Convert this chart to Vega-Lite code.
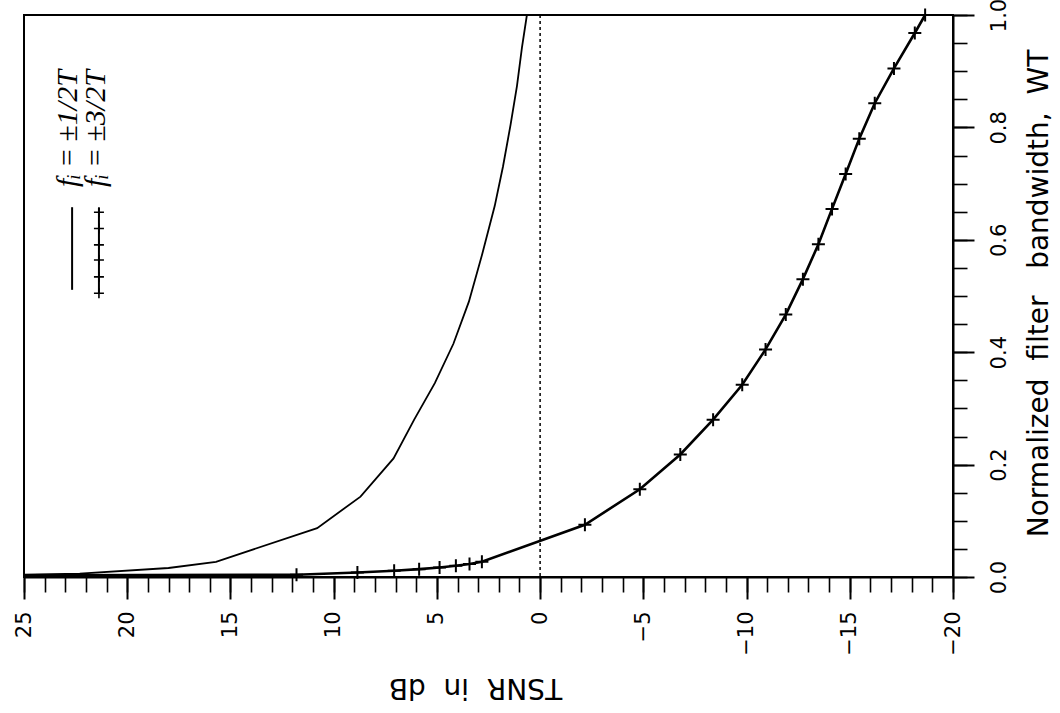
{
  "$schema": "https://vega.github.io/schema/vega-lite/v6.json",
  "width": 929,
  "height": 562,
  "autosize": {"type": "none"},
  "padding": {"left": 24, "top": 15, "right": 107, "bottom": 136},
  "background": "white",
  "config": {
    "view": {"stroke": "black", "strokeWidth": 2},
    "font": "DejaVu Sans"
  },
  "datasets": {
    "curves": [
      {"series": "f=±1/2T", "T": 25.0, "WT": 0.004},
      {"series": "f=±1/2T", "T": 22.3, "WT": 0.006},
      {"series": "f=±1/2T", "T": 18.0, "WT": 0.016},
      {"series": "f=±1/2T", "T": 15.7, "WT": 0.027},
      {"series": "f=±1/2T", "T": 10.8, "WT": 0.087},
      {"series": "f=±1/2T", "T": 8.7, "WT": 0.143},
      {"series": "f=±1/2T", "T": 7.1, "WT": 0.211},
      {"series": "f=±1/2T", "T": 6.1, "WT": 0.28},
      {"series": "f=±1/2T", "T": 5.1, "WT": 0.345},
      {"series": "f=±1/2T", "T": 4.2, "WT": 0.415},
      {"series": "f=±1/2T", "T": 3.45, "WT": 0.49},
      {"series": "f=±1/2T", "T": 2.8, "WT": 0.575},
      {"series": "f=±1/2T", "T": 2.2, "WT": 0.66},
      {"series": "f=±1/2T", "T": 1.8, "WT": 0.73},
      {"series": "f=±1/2T", "T": 1.43, "WT": 0.805},
      {"series": "f=±1/2T", "T": 1.12, "WT": 0.874},
      {"series": "f=±1/2T", "T": 0.88, "WT": 0.942},
      {"series": "f=±1/2T", "T": 0.64, "WT": 1.0},
      {"series": "f=±3/2T", "T": 25.0, "WT": 0.003},
      {"series": "f=±3/2T", "T": 11.8, "WT": 0.004},
      {"series": "f=±3/2T", "T": 8.85, "WT": 0.008},
      {"series": "f=±3/2T", "T": 7.07, "WT": 0.011},
      {"series": "f=±3/2T", "T": 5.86, "WT": 0.014},
      {"series": "f=±3/2T", "T": 4.87, "WT": 0.017},
      {"series": "f=±3/2T", "T": 4.08, "WT": 0.02},
      {"series": "f=±3/2T", "T": 3.42, "WT": 0.023},
      {"series": "f=±3/2T", "T": 2.82, "WT": 0.027},
      {"series": "f=±3/2T", "T": -2.17, "WT": 0.093},
      {"series": "f=±3/2T", "T": -4.83, "WT": 0.156},
      {"series": "f=±3/2T", "T": -6.79, "WT": 0.218},
      {"series": "f=±3/2T", "T": -8.38, "WT": 0.28},
      {"series": "f=±3/2T", "T": -9.79, "WT": 0.342},
      {"series": "f=±3/2T", "T": -10.92, "WT": 0.405},
      {"series": "f=±3/2T", "T": -11.9, "WT": 0.467},
      {"series": "f=±3/2T", "T": -12.73, "WT": 0.53},
      {"series": "f=±3/2T", "T": -13.48, "WT": 0.592},
      {"series": "f=±3/2T", "T": -14.14, "WT": 0.655},
      {"series": "f=±3/2T", "T": -14.8, "WT": 0.717},
      {"series": "f=±3/2T", "T": -15.46, "WT": 0.78},
      {"series": "f=±3/2T", "T": -16.21, "WT": 0.843},
      {"series": "f=±3/2T", "T": -17.14, "WT": 0.905},
      {"series": "f=±3/2T", "T": -18.15, "WT": 0.968},
      {"series": "f=±3/2T", "T": -18.65, "WT": 1.0}
    ]
  },
  "data": {"name": "curves"},
  "resolve": {"axis": {"x": "independent", "y": "independent"}},
  "layer": [
    {
      "mark": {"type": "line", "color": "black"},
      "encoding": {
        "x": {
          "field": "T", "type": "quantitative",
          "scale": {"domain": [-20, 25], "reverse": true, "nice": false, "zero": false},
          "axis": {
            "orient": "bottom",
            "values": [25, 20, 15, 10, 5, 0, -5, -10, -15, -20],
            "grid": false,
            "domain": true, "domainColor": "black", "domainWidth": 2,
            "ticks": true, "tickColor": "black", "tickWidth": 2, "tickSize": 22,
            "labelAngle": 270, "labelAlign": "right", "labelBaseline": "middle",
            "labelFont": "DejaVu Sans", "labelFontSize": 21, "labelColor": "black",
            "labelPadding": 12, "labelFlush": false, "labelOverlap": false,
            "title": "TSNR\u00a0\u00a0in\u00a0\u00a0dB",
            "titleAngle": 180, "titleFont": "DejaVu Sans", "titleFontSize": 28,
            "titleFontWeight": "normal", "titleColor": "black",
            "titleBaseline": "alphabetic", "titleAlign": "center",
            "titleX": 451, "titleY": 101
          }
        },
        "y": {
          "field": "WT", "type": "quantitative",
          "scale": {"domain": [0, 1], "nice": false, "zero": false},
          "axis": {
            "orient": "right",
            "values": [0, 0.2, 0.4, 0.6, 0.8, 1.0],
            "format": ".1f",
            "grid": false,
            "domain": true, "domainColor": "black", "domainWidth": 2,
            "ticks": true, "tickColor": "black", "tickWidth": 2, "tickSize": 21,
            "labelAngle": 270, "labelAlign": "center", "labelBaseline": "top",
            "labelFont": "DejaVu Sans", "labelFontSize": 21, "labelColor": "black",
            "labelPadding": 14, "labelFlush": false, "labelOverlap": false,
            "title": "Normalized\u00a0\u00a0filter\u00a0\u00a0\u00a0bandwidth,\u00a0\u00a0WT",
            "titleAngle": 270, "titleFont": "DejaVu Sans", "titleFontSize": 28,
            "titleFontWeight": "normal", "titleColor": "black",
            "titleBaseline": "alphabetic", "titleAlign": "center",
            "titleX": 94, "titleY": 278
          }
        },
        "strokeWidth": {
          "field": "series", "type": "ordinal",
          "scale": {"domain": ["f=±1/2T", "f=±3/2T"], "range": [1.8, 2.6]},
          "legend": null
        }
      }
    },
    {
      "transform": [{"filter": "datum.series === 'f=±3/2T' && datum.T < 20"}],
      "mark": {"type": "point", "shape": "M-1,0L1,0M0,-1L0,1", "filled": false, "color": "black", "strokeWidth": 2, "size": 169, "opacity": 1},
      "encoding": {
        "x": {
          "field": "T", "type": "quantitative",
          "axis": {
            "orient": "bottom",
            "values": [-20, -19, -18, -17, -16, -15, -14, -13, -12, -11, -10, -9, -8, -7, -6, -5, -4, -3, -2, -1, 0, 1, 2, 3, 4, 5, 6, 7, 8, 9, 10, 11, 12, 13, 14, 15, 16, 17, 18, 19, 20, 21, 22, 23, 24, 25],
            "grid": false, "domain": false, "labels": false,
            "ticks": true, "tickColor": "black", "tickWidth": 1.6, "tickSize": 15,
            "title": null
          }
        },
        "y": {
          "field": "WT", "type": "quantitative",
          "axis": {
            "orient": "right",
            "values": [0, 0.05, 0.1, 0.15, 0.2, 0.25, 0.3, 0.35, 0.4, 0.45, 0.5, 0.55, 0.6, 0.65, 0.7, 0.75, 0.8, 0.85, 0.9, 0.95, 1.0],
            "grid": false, "domain": false, "labels": false,
            "ticks": true, "tickColor": "black", "tickWidth": 1.6, "tickSize": 14,
            "title": null
          }
        }
      }
    },
    {
      "data": {"values": [{}]},
      "mark": {"type": "rule", "color": "black", "strokeWidth": 1.5, "strokeDash": [3, 3]},
      "encoding": {"x": {"datum": 0, "type": "quantitative", "axis": null}}
    },
    {
      "data": {"values": [{}]},
      "mark": {"type": "text", "text": "fᵢ\u2009=\u2009±1/2T", "angle": 270, "align": "left", "baseline": "alphabetic", "font": "Liberation Serif", "fontStyle": "italic", "fontSize": 30, "color": "black"},
      "encoding": {
        "x": {"datum": 22.43, "type": "quantitative", "axis": null},
        "y": {"datum": 0.694, "type": "quantitative", "axis": null}
      }
    },
    {
      "data": {"values": [{}]},
      "mark": {"type": "text", "text": "fᵢ\u2009=\u2009±3/2T", "angle": 270, "align": "left", "baseline": "alphabetic", "font": "Liberation Serif", "fontStyle": "italic", "fontSize": 30, "color": "black"},
      "encoding": {
        "x": {"datum": 21.08, "type": "quantitative", "axis": null},
        "y": {"datum": 0.694, "type": "quantitative", "axis": null}
      }
    },
    {
      "data": {"values": [{}]},
      "mark": {"type": "rule", "color": "black", "strokeWidth": 2},
      "encoding": {
        "x": {"datum": 22.67, "type": "quantitative", "axis": null},
        "y": {"datum": 0.511, "type": "quantitative", "axis": null},
        "y2": {"datum": 0.658}
      }
    },
    {
      "data": {"values": [{}]},
      "mark": {"type": "rule", "color": "black", "strokeWidth": 2},
      "encoding": {
        "x": {"datum": 21.37, "type": "quantitative", "axis": null},
        "y": {"datum": 0.505, "type": "quantitative", "axis": null},
        "y2": {"datum": 0.657}
      }
    },
    {
      "data": {"values": [{"WT": 0.505}, {"WT": 0.534}, {"WT": 0.564}, {"WT": 0.591}, {"WT": 0.62}, {"WT": 0.649}]},
      "mark": {"type": "point", "shape": "M-1,0L1,0M0,-1L0,1", "filled": false, "color": "black", "strokeWidth": 1.6, "size": 100, "opacity": 1},
      "encoding": {
        "x": {"datum": 21.37, "type": "quantitative", "axis": null},
        "y": {"field": "WT", "type": "quantitative", "axis": null}
      }
    }
  ]
}
